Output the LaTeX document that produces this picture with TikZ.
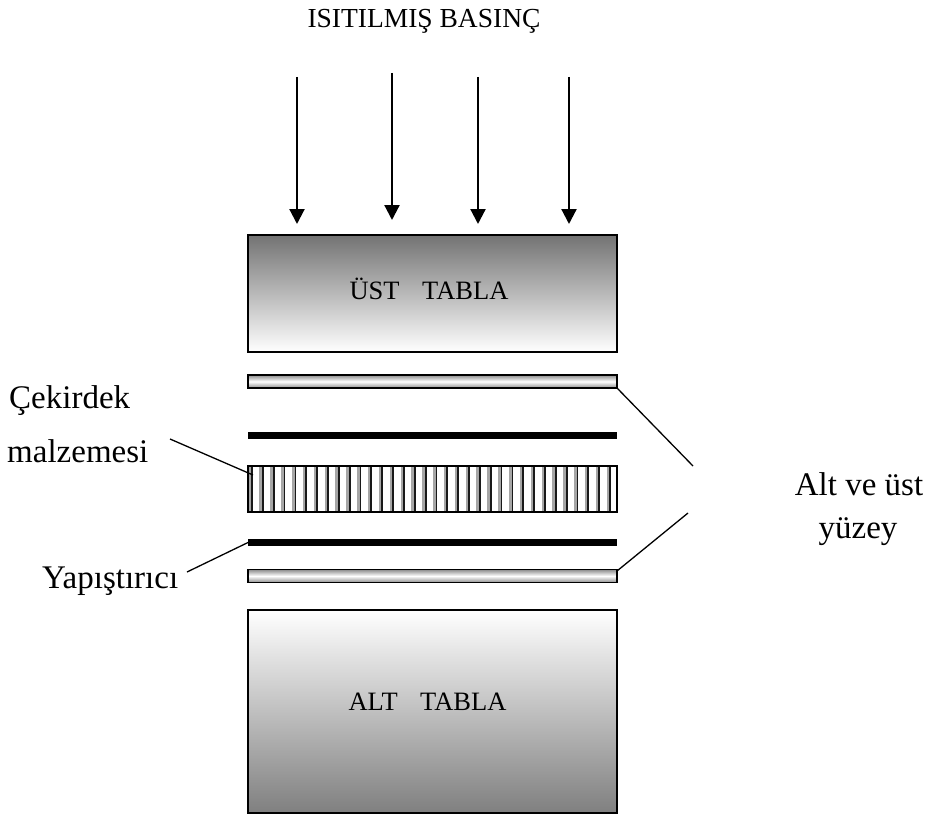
\documentclass[tikz,border=0pt]{standalone}
\usepackage{fontspec}
\setmainfont{Liberation Serif}
\usetikzlibrary{arrows.meta}
\begin{document}
\begin{tikzpicture}[x=1pt,y=-1pt,
  plate/.style={draw=black,line width=2pt,inner sep=0pt,outer sep=0pt,minimum width=369pt},
  sheet/.style={draw=black,line width=1.5pt,inner sep=0pt,outer sep=0pt,minimum width=369pt,
    top color=black!45,bottom color=black!45,middle color=white},
  glue/.style={fill=black,inner sep=0pt,outer sep=0pt,minimum width=369pt,minimum height=7pt},
  press/.style={line width=2.2pt,-{Triangle[length=15pt,width=15pt]}},
  leader/.style={line width=1.3pt},
  sidelabel/.style={font=\fontsize{33}{39}\selectfont,inner sep=0pt},
  platelabel/.style={font=\fontsize{26.5}{32}\selectfont,inner sep=0pt}]
\useasboundingbox (0,0) rectangle (929,816);

% title
\node[font=\fontsize{27.5}{33}\selectfont,inner sep=0pt,anchor=base] (title) at (424,28) {ISITILMIŞ BASINÇ};

% press plates
\node[plate,minimum height=117pt,top color=black!55,bottom color=white] (top) at (432.5,293.5) {};
\node[plate,minimum height=203pt,top color=white,bottom color=black!50] (bottom) at (432.5,711.5) {};
\node[platelabel,anchor=base] (toplab) at (429,299) {ÜST\hspace{0.85em}TABLA};
\node[platelabel,anchor=base] (botlab) at (427.5,710) {ALT\hspace{0.85em}TABLA};

% pressure arrows
\foreach \x/\ys/\ye [count=\i] in {297/77/224, 392/73/220, 478/77/224, 569/77/224}{
  \coordinate (s\i) at (\x,\ys);
  \coordinate (e\i) at (\x,\ye);
  \draw[press] (s\i) -- (e\i);
}

% face sheets and adhesive films
\node[sheet,minimum height=13pt] (fs1) at (432.5,381.5) {};
\node[sheet,minimum height=13pt] (fs2) at (432.5,576) {};
\node[glue] (ad1) at (432.5,435.5) {};
\node[glue] (ad2) at (432.5,542.5) {};

% core with vertical cells
\node[draw=black,line width=1.5pt,fill=white,inner sep=0pt,outer sep=0pt,
      minimum width=369pt,minimum height=46pt] (core) at (432.5,489) {};
\foreach \k in {0,...,33}{
  \pgfmathsetmacro{\xx}{252+10.85*\k}
  \fill[black!35] (\xx-3.4,466) rectangle (\xx-0.6,512);
  \draw[black!90,line width=1.8pt] (\xx,466) -- (\xx,512);
}
\draw[line width=1.5pt] (core.south west) rectangle (core.north east);

% left labels
\node[sidelabel,anchor=base west] (cek) at (9,408) {Çekirdek};
\node[sidelabel,anchor=base west] (malz) at (7,462) {malzemesi};
\node[sidelabel,anchor=base west] (yap) at (42,588) {Yapıştırıcı};
\coordinate (c1) at (170,439);
\coordinate (y1) at (187,572);
\draw[leader] (c1) -- ([xshift=5pt,yshift=14pt]core.west);
\draw[leader] (y1) -- (ad2.west);

% right labels
\node[sidelabel,anchor=base] (alt) at (859,495) {Alt ve üst};
\node[sidelabel,anchor=base] (yuz) at (858,538) {yüzey};
\coordinate (r1) at (693,466);
\coordinate (r2) at (688,513);
\draw[leader] (fs1.south east) -- (r1);
\draw[leader] ([yshift=5pt]fs2.east) -- (r2);
\end{tikzpicture}
\end{document}
